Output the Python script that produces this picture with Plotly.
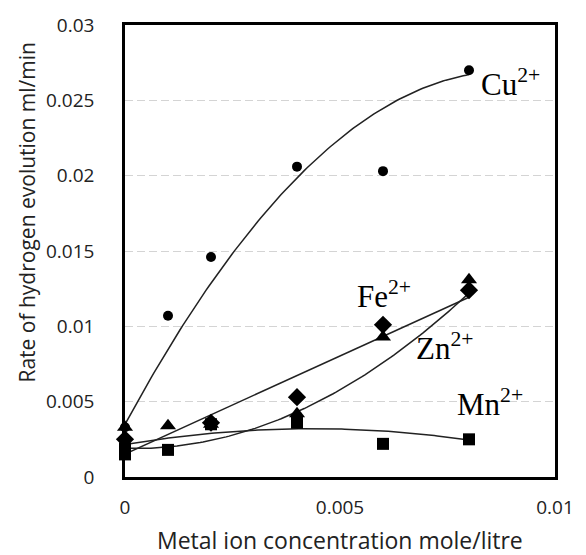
import numpy as np
import plotly.graph_objects as go

# concentration (mole/litre) and rate of hydrogen evolution (ml/min)
cu_x = [0, 0.001, 0.002, 0.004, 0.006, 0.008]
cu_y = [0.0033, 0.0107, 0.0146, 0.0206, 0.0203, 0.0270]

fe_x = [0, 0.002, 0.004, 0.006, 0.008]
fe_y = [0.0025, 0.0036, 0.0053, 0.0101, 0.0124]

zn_x = [0, 0.001, 0.002, 0.004, 0.006, 0.008]
zn_y = [0.0033, 0.0034, 0.0035, 0.0042, 0.0093, 0.0131]

mn_x = [0, 0, 0.001, 0.002, 0.004, 0.006, 0.008]
mn_y = [0.0019, 0.0015, 0.0018, 0.0035, 0.0036, 0.0022, 0.0025]

# trendline coefficients (y in 1e-3 ml/min, x in 1e-3 mol/L),
# ascending powers: a + b*x + c*x^2
cu_trend = [3.5, 5.277, -0.297]
fe_trend = [1.53, 1.30]
zn_trend = [1.9, -0.078, 0.1708]
mn_trend = [2.15, 0.488, -0.0563]
trend_x_range = [0, 0.008]

labels = ["Cu<sup>2+</sup>", "Fe<sup>2+</sup>", "Zn<sup>2+</sup>", "Mn<sup>2+</sup>"]
label_x = [0.00824, 0.00535, 0.00672, 0.00767]
label_y = [0.0262, 0.0121, 0.00868, 0.00493]

x_title = "Metal ion concentration mole/litre"
y_title = "Rate of hydrogen evolution ml/min"
x_ticks = [0, 0.005, 0.01]
y_ticks = [0, 0.005, 0.01, 0.015, 0.02, 0.025, 0.03]

fig = go.Figure()

def trend(coefs):
    xs = np.linspace(trend_x_range[0], trend_x_range[1], 120)
    xm = xs * 1e3
    ys = sum(c * xm ** i for i, c in enumerate(coefs)) * 1e-3
    return xs, ys

series = [
    (cu_x, cu_y, cu_trend, "circle", 10),
    (fe_x, fe_y, fe_trend, "diamond", 14),
    (zn_x, zn_y, zn_trend, "triangle-up", 14),
    (mn_x, mn_y, mn_trend, "square", 12),
]
for x, y, coefs, sym, sz in series:
    xs, ys = trend(coefs)
    fig.add_trace(go.Scatter(x=xs, y=ys, mode="lines",
                             line=dict(color="#222222", width=1.5),
                             showlegend=False, hoverinfo="skip"))
for x, y, coefs, sym, sz in series:
    fig.add_trace(go.Scatter(x=x, y=y, mode="markers",
                             marker=dict(symbol=sym, size=sz, color="black"),
                             showlegend=False, cliponaxis=False))

for t, ax, ay in zip(labels, label_x, label_y):
    fig.add_annotation(x=ax, y=ay, text=t, showarrow=False, xanchor="left",
                       yanchor="middle",
                       font=dict(family="Liberation Serif", size=31, color="black"))

fig.add_annotation(xref="paper", yref="paper", x=0.5, y=-0.14, text=x_title,
                   showarrow=False, xanchor="center", yanchor="middle",
                   font=dict(family="Open Sans", size=23, color="#222222"))
fig.add_annotation(xref="paper", yref="paper", x=-0.228, y=0.585, text=y_title,
                   showarrow=False, xanchor="center", yanchor="middle", textangle=-90,
                   font=dict(family="Open Sans", size=21, color="#222222"))

fig.update_layout(
    width=586, height=555,
    margin=dict(l=125, r=24, t=21, b=78),
    plot_bgcolor="white", paper_bgcolor="white",
    font=dict(family="Open Sans", color="#222222"),
)
fig.update_xaxes(range=[0, 0.01], tickvals=x_ticks,
                 ticktext=[str(v) for v in x_ticks],
                 showgrid=False, zeroline=False,
                 showline=True, mirror=True, linecolor="black", linewidth=2.5,
                 ticks="", ticklabelstandoff=11,
                 tickfont=dict(size=19))
fig.update_yaxes(range=[0, 0.03], tickvals=y_ticks,
                 ticktext=["0" if v == 0 else str(v) for v in y_ticks],
                 showgrid=True, gridcolor="#d4d4d4", griddash="8px,4px", gridwidth=1,
                 zeroline=False,
                 showline=True, mirror=True, linecolor="black", linewidth=2.5,
                 ticks="", ticklabelstandoff=24,
                 tickfont=dict(size=19))

fig.write_html("out.html")
